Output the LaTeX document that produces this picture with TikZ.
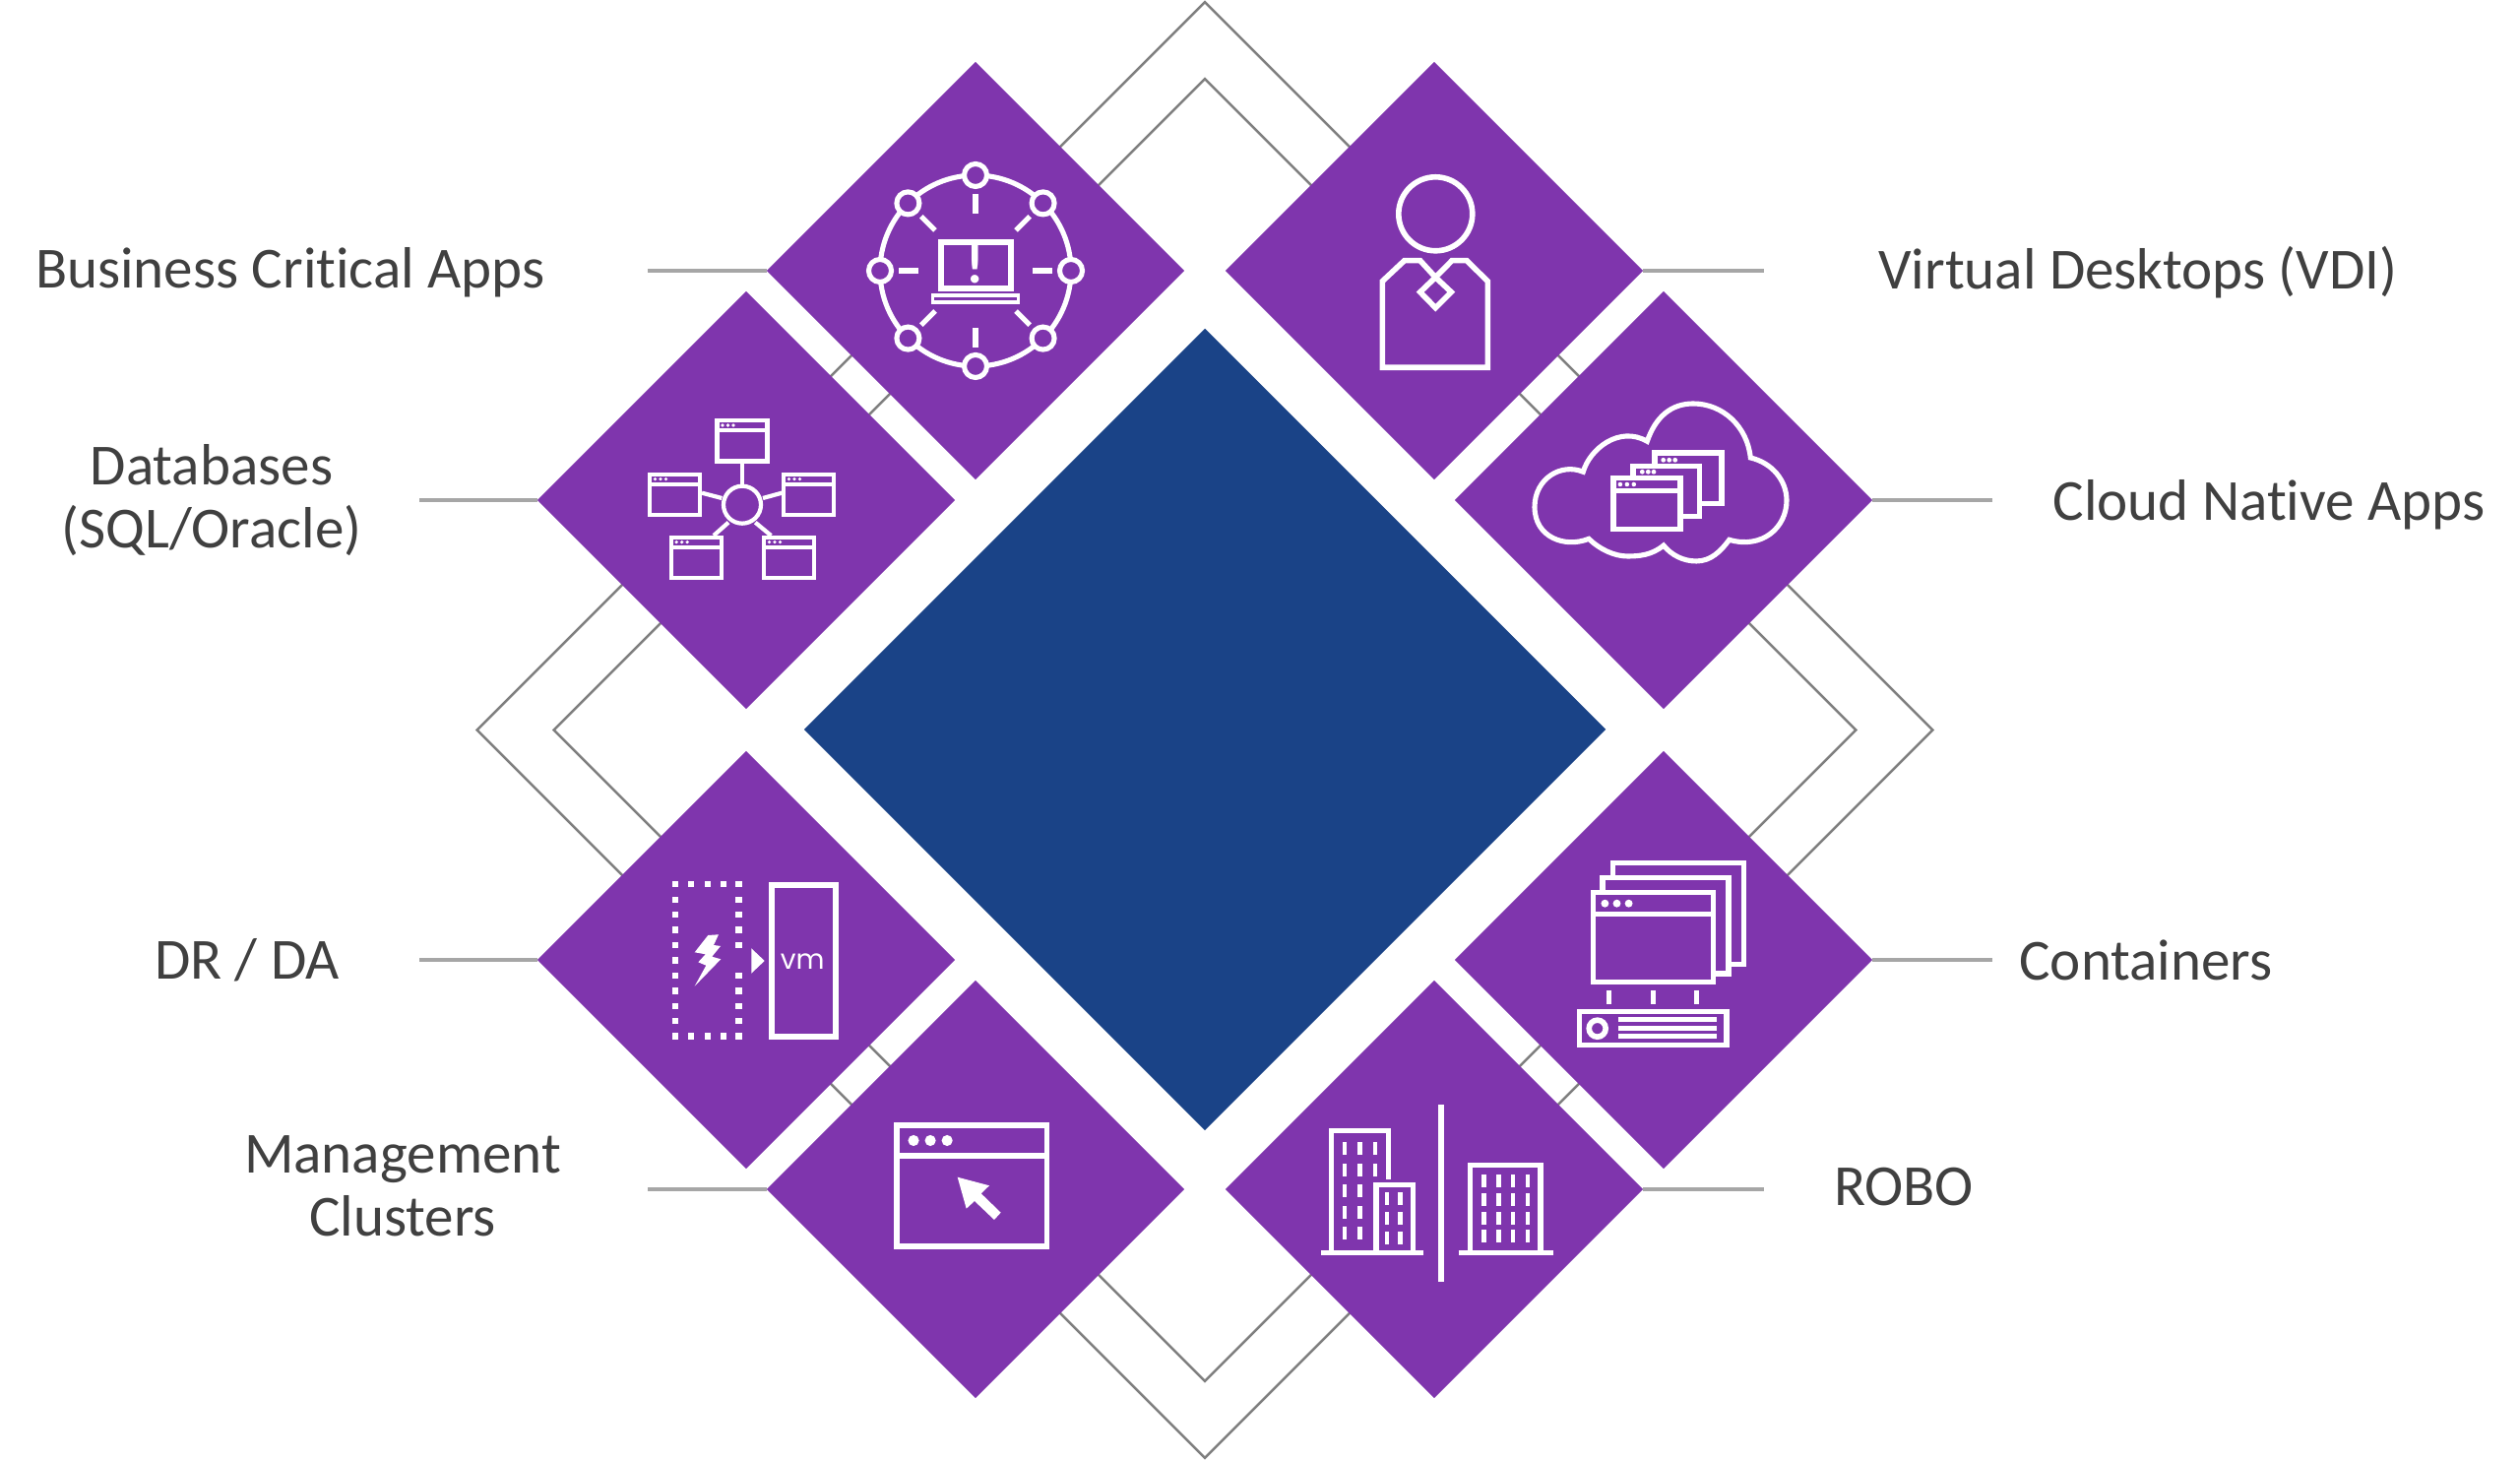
\documentclass[tikz,border=0pt]{standalone}
\usepackage{fontspec}
\setmainfont{Carlito}[Ligatures=NoCommon]
\newfontfamily\vmfont{Poppins}
\usetikzlibrary{shapes.geometric}

\definecolor{tilepurple}{HTML}{7F35AD}
\definecolor{hubblue}{HTML}{1A4387}
\definecolor{railgray}{HTML}{7F7F7F}
\definecolor{leadergray}{HTML}{A6A6A6}
\definecolor{labelgray}{HTML}{404040}

\newcommand{\browser}[5]{
	\draw [icon] (#1, #2) rectangle (#3, #4);
	\draw [icon] (#1, #2 + #5) -- (#3, #2 + #5);
	\foreach \k in {1,2,3}
	{
		\fill [white] (#1 + 0.55 * #5 * \k, #2 + 0.5 * #5) circle (0.18 * #5);
	}
}

\tikzset{
	icon/.style = {draw=white, line width=1.45pt},
	rail/.style = {draw=railgray, shape=diamond, aspect=1, inner sep=0, outer sep=0, line width=0.7pt},
	hubtile/.style = {fill=hubblue, shape=diamond, aspect=1, inner sep=0, outer sep=0, minimum size=8.14cm},
	tile/.style = {fill=tilepurple, shape=diamond, aspect=1, inner sep=0, outer sep=0, minimum size=4.24cm},
	leader/.style = {draw=leadergray, line width=1.2pt},
	tag/.style = {text=labelgray, align=center, font=\fontsize{16.8}{18.2}\selectfont},
	alertring/.pic = {
		\draw [icon] (0, 0) circle (97);
		\foreach \a in {0,45,...,315}
		{
			\draw [icon, fill=tilepurple] (\a:97) circle (11.5);
			\draw [icon] (\a:58) -- (\a:78);
		}
		\draw [icon] (-35, -29) rectangle (36, 18);
		\draw [icon, line width=1.1pt] (-43.5, 25) rectangle (43.5, 32);
		\node [text=white, font=\fontsize{16}{16}\bfseries] (alertmark) at (0, -6) {!};
	},
	schema/.pic = {
		\tikzset{icon/.append style={line width=1.2pt}}
		\draw [icon] (-4, 4.7) circle (19);
		\draw [icon] (-4, -14.3) -- (-4, -38);
		\draw [icon] (-24.7, -2) -- (-45, -7.3);
		\draw [icon] (17, -2) -- (36.3, -7.3);
		\draw [icon] (-18, 22.7) -- (-33, 36);
		\draw [icon] (9.3, 22.7) -- (25.3, 36);
		\browser{-29.5}{-81}{21.5}{-39.5}{10}
		\browser{-98}{-26.3}{-47}{15.2}{10}
		\browser{38}{-26.3}{89}{15.2}{10}
		\browser{-76.3}{37.7}{-25.3}{79.2}{10}
		\browser{18}{37.7}{69}{79.2}{10}
	},
	person/.pic = {
		\tikzset{icon/.append style={line width=1.6pt}}
		\draw [icon] (1.3, -57.7) circle (37.5);
		\draw [icon] (-52.7, 98.3) -- (-52.7, 10.7) -- (-30.3, -10.3) -- (-14.3, -10.3)
			-- (1.3, 6.7) -- (18, -10.3) -- (33, -10.3) -- (54.3, 10.7) -- (54.3, 98.3) -- cycle;
		\draw [icon] (1.3, 6.7) -- (17.3, 21.7) -- (1.3, 37.7) -- (-14.3, 21.7) -- cycle;
	},
	cloudapps/.pic = {
		\draw [icon] (-76, 39.3)
		.. controls (-100, 49) and (-131, 38) .. (-131, 7)
		.. controls (-131, -22) and (-104, -38) .. (-81.7, -28.7)
		.. controls (-75, -52) and (-45, -76) .. (-16.7, -59.7)
		.. controls (-8, -85) and (8, -98) .. (30, -98)
		.. controls (60, -98) and (85, -75) .. (88.3, -43)
		.. controls (110, -38) and (125, -20) .. (125, 0.3)
		.. controls (125, 28) and (100, 50) .. (66.7, 40.3)
		.. controls (58, 52) and (48, 62) .. (33.3, 62)
		.. controls (20, 62) and (8, 56) .. (0, 46)
		.. controls (-12, 56) and (-25, 57) .. (-36.7, 57)
		.. controls (-50, 57) and (-65, 50) .. (-76, 39.3) -- cycle;
		\draw [icon] (-9, -34.7) -- (-9, -48) -- (59, -48) -- (59, 3.7) -- (36.3, 3.7);
		\draw [icon] (-31, -22.3) -- (-31, -34.7) -- (36.3, -34.7) -- (36.3, 16.3) -- (17, 16.3);
		\browser{-51}{-22.3}{17}{29.3}{12.6}
		\foreach \x in {-0.3,5.7,11.7}
		{
			\fill [white] (\x, -40.7) circle (2.4);
		}
		\foreach \x in {-21.7,-15.7,-10}
		{
			\fill [white] (\x, -28.7) circle (2.4);
		}
	},
	failover/.pic = {
		\foreach \x in {-72,-56,-39.3,-23,-7.7}
		{
			\fill [white] (\x - 3.2, -79.9) rectangle ++(6.4, 6.4);
			\fill [white] (\x - 3.2, 74.5) rectangle ++(6.4, 6.4);
		}
		\foreach \y in {1,...,9}
		{
			\fill [white] (-75.2, -79.9 + 15.44 * \y) rectangle ++(6.4, 6.4);
			\ifnum\y=5\else
				\fill [white] (-10.9, -79.9 + 15.44 * \y) rectangle ++(6.4, 6.4);
			\fi
		}
		\fill [white] (-38.7, -25) -- (-28, -25.7) -- (-33, -15) -- (-26, -14) -- (-34.7, -3.3) -- (-25.7, -0.7)
			-- (-52.3, 26.7) -- (-40.7, 5.7) -- (-48.7, 2.3) -- (-41.3, -5.7) -- (-52.3, -7.7) -- cycle;
		\fill [white] (5.3, -11.7) -- (18.7, 1) -- (5.3, 13.7) -- cycle;
		\draw [icon, line width=1.6pt] (25.7, -76.3) rectangle (90.7, 78.3);
		\node [text=white, font=\vmfont\fontsize{8}{8}\selectfont] (vmmark) at (57.3, 2) {vm};
	},
	console/.pic = {
		\browser{-80}{-65}{72.7}{58}{31}
		\fill [white] (-18.3, -12.3) -- (14, -3.7) -- (5.7, 4.3) -- (25.7, 23.7) -- (19, 31) -- (-1, 12) -- (-9.3, 19.7) -- cycle;
	},
	stack/.pic = {
		\draw [icon] (-51.7, -83.3) -- (-51.7, -98.7) -- (81.3, -98.7) -- (81.3, 4.3) -- (66, 4.3);
		\draw [icon] (-62, -68.3) -- (-62, -83.3) -- (66, -83.3) -- (66, 14) -- (50.3, 14);
		\browser{-71.7}{-68.3}{50.3}{22.7}{22}
		\foreach \x in {-55.7,-10.7,33.7}
		{
			\draw [icon] (\x, 31) -- (\x, 45);
		}
		\draw [icon] (-85.7, 52.7) rectangle (64, 86.3);
		\draw [icon, line width=1.6pt] (-67.3, 69.7) circle (8.5);
		\foreach \y in {60.7,69.7,77.7}
		{
			\draw [icon] (-45.7, \y) -- (54, \y);
		}
	},
	branch/.pic = {
		\draw [icon, line width=1.6pt] (6.7, -85.7) -- (6.7, 93.7);
		\draw [icon] (-114.7, 64.3) -- (-10.7, 64.3);
		\draw [icon] (24.7, 64.3) -- (120.7, 64.3);
		\draw [icon] (-104.3, 64.3) -- (-104.3, -59.3) -- (-46.3, -59.3) -- (-46.3, -9.7);
		\draw [icon] (-59, 64.3) -- (-59, -4.7) -- (-21.7, -4.7) -- (-21.7, 64.3);
		\draw [icon] (36.7, 64.3) -- (36.7, -24.3) -- (108, -24.3) -- (108, 64.3);
		\foreach \x in {-91,-75.3}
		{
			\foreach \y in {-41.3,-19.7,2,23.7,45}
			{
				\fill [white] (\x - 2.4, \y - 6.5) rectangle ++(4.8, 13);
			}
		}
		\foreach \y in {-41.3,-19.7}
		{
			\fill [white] (-62.4, \y - 6.5) rectangle ++(4.8, 13);
		}
		\foreach \x in {-48,-34.3}
		{
			\foreach \y in {9.3,29.3,49.3}
			{
				\fill [white] (\x - 2.4, \y - 6.5) rectangle ++(4.8, 13);
			}
		}
		\foreach \x in {50.7,65.3,80,95}
		{
			\foreach \y in {-8,10.3,29.3,48}
			{
				\fill [white] (\x - 2.4, \y - 6.5) rectangle ++(4.8, 13);
			}
		}
	}
}

\begin{document}
\begin{tikzpicture}[x=0.01cm, y=-0.01cm]
	\useasboundingbox (0, 0) rectangle (2560, 1483);
	\node [rail, minimum size=14.78cm] (outerrail) at (1224, 741.5) {};
	\node [rail, minimum size=13.22cm] (innerrail) at (1224, 741.5) {};
	\node [hubtile] (hub) at (1224, 741) {};
	\foreach \tilename/\x/\y/\endx in {
		bca/991/275/658, vdi/1457/275/1792, cloud/1690/508/2024, sql/758/508/426,
		dr/758/975/426, mgmt/991/1208/658, robo/1457/1208/1792, box/1690/975/2024
	}
	{
		\node [tile] (\tilename) at (\x, \y) {};
		\coordinate (\tilename end) at (\endx, \y);
		\draw [leader] (\tilename) -- (\tilename end);
	}
	\pic at (991, 275) {alertring};
	\pic at (1457, 275) {person};
	\pic at (1690, 508) {cloudapps};
	\pic at (758, 508) {schema};
	\pic at (758, 975) {failover};
	\pic at (991, 1208) {console};
	\pic at (1457, 1208) {branch};
	\pic at (1690, 975) {stack};
	\node [tag] (bcatag) at (295, 277) {Business Critical Apps};
	\node [tag] (sqltag) at (215, 508) {Databases\\(SQL/Oracle)};
	\node [tag] (drtag) at (251, 975) {DR / DA};
	\node [tag] (mgmttag) at (409, 1205) {Management\\Clusters};
	\node [tag] (vditag) at (2172, 277) {Virtual Desktops (VDI)};
	\node [tag] (cloudtag) at (2305, 513) {Cloud Native Apps};
	\node [tag] (boxtag) at (2180, 975) {Containers};
	\node [tag] (robotag) at (1934, 1206) {ROBO};
\end{tikzpicture}
\end{document}
